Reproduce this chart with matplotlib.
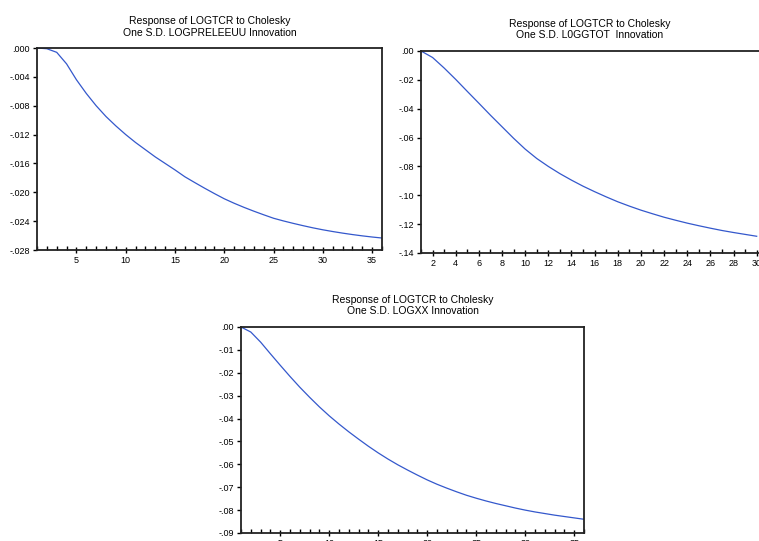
import numpy as np
import matplotlib.pyplot as plt
from matplotlib.ticker import FuncFormatter, MultipleLocator

plt.rcParams['font.family'] = ['Liberation Sans', 'DejaVu Sans']

# impulse responses
periods_a = list(range(1, 37))
resp_a = [0.0, -0.0001, -0.0006, -0.0022, -0.0044, -0.0063, -0.0080, -0.0095, -0.0108,
          -0.0120, -0.0131, -0.0141, -0.0151, -0.0160, -0.0169, -0.01785, -0.01865, -0.01943,
          -0.02018, -0.0209, -0.02152, -0.02209, -0.02262, -0.02312, -0.0236, -0.02397, -0.02431,
          -0.02463, -0.02493, -0.0252, -0.02544, -0.02566, -0.02586, -0.02604, -0.0262, -0.02634]

periods_b = list(range(1, 31))
resp_b = [0.0, -0.0045, -0.0118, -0.0197, -0.0280, -0.0362, -0.0445, -0.0525, -0.0605,
          -0.0680, -0.0745, -0.0800, -0.0850, -0.0895, -0.0937, -0.0975, -0.1011, -0.1045,
          -0.1075, -0.1103, -0.1128, -0.1152, -0.1173, -0.1193, -0.1211, -0.1228, -0.1244,
          -0.1258, -0.1271, -0.1284]

periods_c = list(range(1, 37))
resp_c = [0.0, -0.0022, -0.0066, -0.0117, -0.0167, -0.0216, -0.0263, -0.0307, -0.0349,
          -0.0388, -0.0424, -0.0458, -0.0490, -0.0521, -0.0550, -0.0577, -0.0602, -0.0625,
          -0.0647, -0.0668, -0.0687, -0.0704, -0.0720, -0.0735, -0.0748, -0.0760, -0.0771,
          -0.0781, -0.0791, -0.0800, -0.0808, -0.0815, -0.0822, -0.0828, -0.0834, -0.0840]

titles = ["Response of LOGTCR to Cholesky\nOne S.D. LOGPRELEEUU Innovation",
          "Response of LOGTCR to Cholesky\nOne S.D. L0GGTOT  Innovation",
          "Response of LOGTCR to Cholesky\nOne S.D. LOGXX Innovation"]

W, H = 759, 541
fig = plt.figure(figsize=(W / 100, H / 100), dpi=100)


def box(l, r, t, b):
    return [l / W, 1 - b / H, (r - l) / W, (b - t) / H]


def fmt(decimals):
    def f(v, pos):
        s = f"{v:.{decimals}f}"
        if abs(v) < 1e-12:
            s = f"{0:.{decimals}f}"
        return s.replace("0.", ".", 1)
    return FuncFormatter(f)


def panel(rect, x, y, title, ylim, ystep, dec, xlim, xmajor):
    ax = fig.add_axes(rect)
    ax.plot(x, y, color='#3458cc', lw=0.9)
    ax.set_xlim(*xlim)
    ax.set_ylim(*ylim)
    ax.yaxis.set_major_locator(MultipleLocator(ystep))
    ax.yaxis.set_major_formatter(fmt(dec))
    ax.xaxis.set_major_locator(MultipleLocator(xmajor))
    ax.xaxis.set_minor_locator(MultipleLocator(1))
    ax.tick_params(axis='x', which='major', direction='inout', length=5, width=1, labelsize=6.5, pad=2)
    ax.tick_params(axis='x', which='minor', direction='in', length=3, width=1)
    ax.tick_params(axis='y', direction='out', length=3, width=1, labelsize=6.5, pad=2)
    for s in ax.spines.values():
        s.set_linewidth(1.3)
        s.set_color('#222222')
    ax.set_title(title, fontsize=7.5, pad=9, linespacing=1.15)
    return ax


panel(box(37, 382, 48, 250), periods_a, resp_a, titles[0], (-0.028, 0.0), 0.004, 3, (1, 36), 5)
ax2 = panel(box(421, 759, 51, 253), periods_b, resp_b, titles[1], (-0.14, 0.0), 0.02, 2, (1, 30.2), 2)
ax2.spines['right'].set_visible(False)
panel(box(241, 584, 327, 533), periods_c, resp_c, titles[2], (-0.09, 0.0), 0.01, 2, (1, 36), 5)

fig.savefig('out.png', dpi=100)
